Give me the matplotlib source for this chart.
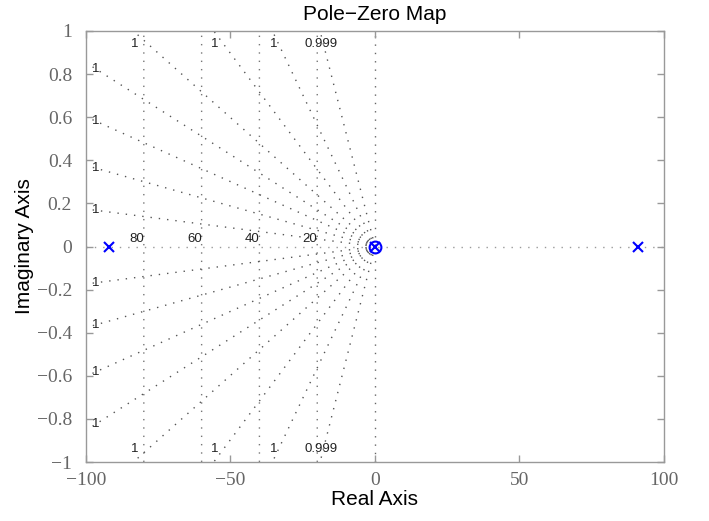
import matplotlib
matplotlib.use("Agg")
import matplotlib.pyplot as plt
import numpy as np

# pole / zero locations (real parts, imag = 0)
POLES_RE = [-92.0, 0.0, 91.0]
ZEROS_RE = [0.0]

RAY_LEFT_Y = [0.174, 0.376, 0.602, 0.853]      # y where the ray meets x = -100
RAY_TOP_X = [-83.6, -55.8, -35.5, -19.0]       # x where the ray meets y = +1
RAY_LEFT_LABELS = ["1", "1", "1", "1"]
RAY_TOP_LABELS = ["1", "1", "1", "0.999"]

# natural-frequency circles
WN = [20, 40, 60, 80]
WN_LABELS = ["20", "40", "60", "80"]

XTICKS = [-100, -50, 0, 50, 100]
XTICK_LABELS = ["\u2212100", "\u221250", "0", "50", "100"]
YTICKS = [-1, -0.8, -0.6, -0.4, -0.2, 0, 0.2, 0.4, 0.6, 0.8, 1]
YTICK_LABELS = ["\u22121", "\u22120.8", "\u22120.6", "\u22120.4", "\u22120.2", "0",
                "0.2", "0.4", "0.6", "0.8", "1"]

GRID_DOTS = (0, (1, 5))
SANS = "Liberation Sans"
SERIF = "Liberation Serif"

fig = plt.figure(figsize=(7.09, 5.21), dpi=100)
ax = fig.add_axes([0.1213, 0.1132, 0.8152, 0.8273])
ax.set_xlim(-100, 100)
ax.set_ylim(-1, 1)

# real / imaginary axis lines
ax.plot([-100, 100], [0, 0], color="#9a9a9a", lw=1.0, linestyle=GRID_DOTS, zorder=1)
ax.plot([0, 0], [-1, 1], color="#666666", lw=1.0, linestyle=GRID_DOTS, zorder=1)

# wn semicircles (look vertical at this aspect)
yy = np.linspace(-1, 1, 200)
for wn in WN:
    ax.plot(-np.sqrt(wn ** 2 - yy ** 2), yy, color="#777777", lw=1.0,
            linestyle=GRID_DOTS, zorder=1)

# damping rays, drawn outward from the origin so the dots line up in arcs
lbl_kw = dict(fontsize=9.5, color="#222222", family=SANS, ha="center", va="center")
for y_end, lab in zip(RAY_LEFT_Y, RAY_LEFT_LABELS):
    for sgn in (1, -1):
        ax.plot([0, -100], [0, sgn * y_end], color="#555555", lw=1.0,
                linestyle=GRID_DOTS, zorder=1)
        ax.text(-96.5, sgn * y_end * 0.965, lab, **lbl_kw)
for x_end, lab in zip(RAY_TOP_X, RAY_TOP_LABELS):
    for sgn in (1, -1):
        ax.plot([0, x_end], [0, sgn * 1.0], color="#555555", lw=1.0,
                linestyle=GRID_DOTS, zorder=1)
        ax.text(x_end + 0.5, sgn * 0.94, lab, **lbl_kw)

for wn, lab in zip(WN, WN_LABELS):
    ax.text(-wn - 2.5, 0.036, lab, **lbl_kw)

# poles and zeros
ax.plot(POLES_RE, np.zeros(len(POLES_RE)), linestyle="none", marker="x",
        color="#0000ff", markersize=7, markeredgewidth=1.5, zorder=4)
ax.plot(ZEROS_RE, np.zeros(len(ZEROS_RE)), linestyle="none", marker="o",
        markerfacecolor="none", markeredgecolor="#0000ff", markersize=8.5,
        markeredgewidth=1.5, zorder=4)

# MATLAB-like box
for sp in ax.spines.values():
    sp.set_color("#999999")
    sp.set_linewidth(1.0)
ax.set_xticks(XTICKS)
ax.set_xticklabels(XTICK_LABELS)
ax.set_yticks(YTICKS)
ax.set_yticklabels(YTICK_LABELS)
ax.tick_params(direction="in", length=5, width=1.0, color="#999999",
               top=True, right=True, labelsize=14, labelcolor="#666666")
ax.tick_params(axis="x", pad=7)
ax.tick_params(axis="y", pad=10)
for t in ax.get_xticklabels() + ax.get_yticklabels():
    t.set_family(SERIF)

ax.set_title("Pole\u2212Zero Map", fontsize=15, family=SANS, pad=8)
ax.set_xlabel("Real Axis", fontsize=15, family=SANS, labelpad=1)
ax.set_ylabel("Imaginary Axis", fontsize=15, family=SANS, labelpad=2)

fig.savefig("out.png", dpi=100)
